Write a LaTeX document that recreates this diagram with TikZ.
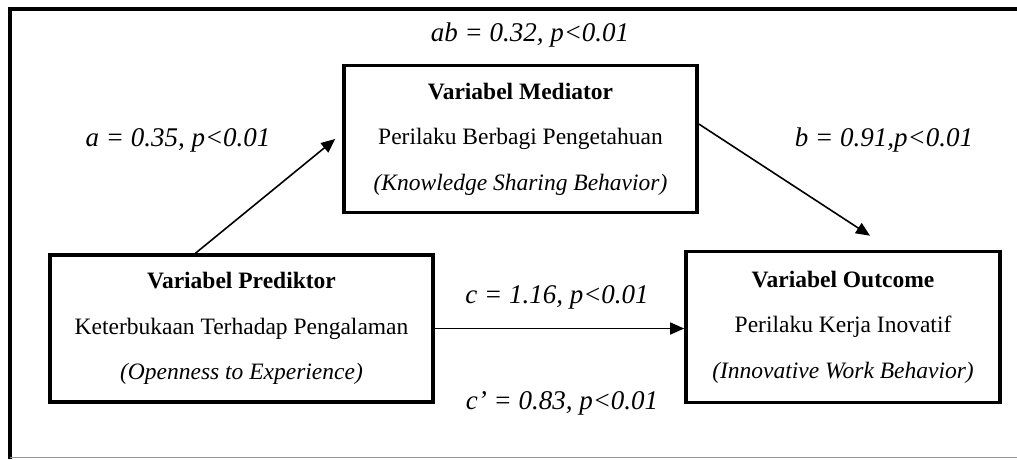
\documentclass[tikz,border=0pt]{standalone}
\usepackage{fontspec}
\setmainfont{Liberation Serif}
\usepackage{tikz}
\usetikzlibrary{
	arrows.meta,
	calc,
	positioning
}
\definecolor{FrameGray}{RGB}{150,150,150}

\begin{document}
\begin{tikzpicture}[x=1pt, y=-1pt,
		varbox/.style={draw, line width=3.6pt, inner sep=0pt, align=center, font=\fontsize{23.5}{45.5}\selectfont},
		coef/.style={font=\itshape\fontsize{27}{30}\selectfont},
		path/.style={line width=1.6pt, -{Triangle[length=14pt, width=12pt]}}]
			\useasboundingbox (0,0) rectangle (1017,459);
			\draw[line width=3.6pt] (10,459) -- (10,9) -- (1017,9);
			\draw[FrameGray, line width=1.2pt] (10,457.5) -- (1017,457.5);
			\node[varbox, minimum width=353pt, minimum height=147pt] (mediator) at (520.5,139) {\textbf{Variabel Mediator}\\Perilaku Berbagi Pengetahuan\\\textit{(Knowledge Sharing Behavior)}};
			\node[varbox, minimum width=383pt, minimum height=147pt] (predictor) at (241.5,328.5) {\textbf{Variabel Prediktor}\\Keterbukaan Terhadap Pengalaman\\\textit{(Openness to Experience)}};
			\node[varbox, minimum width=314pt, minimum height=151pt] (outcome) at (843,327) {\textbf{Variabel Outcome}\\Perilaku Kerja Inovatif\\\textit{(Innovative Work Behavior)}};
			\draw[path] ([xshift=-46pt]predictor.north) -- ([xshift=-7pt]mediator.west);
			\draw[path] ([yshift=15pt]mediator.east) -- ([xshift=27pt, yshift=14pt]outcome.north);
			\draw[path] (predictor.east) -- (predictor.east -| outcome.west);
			\node[coef] (ab) at (530,35) {ab = 0.32, p<0.01};
			\node[coef] (a) at (178,140) {a = 0.35, p<0.01};
			\node[coef] (b) at (884,140) {b = 0.91,p<0.01};
			\node[coef] (c) at (557,297) {c = 1.16, p<0.01};
			\node[coef] (cprime) at (562,403) {c’ = 0.83, p<0.01};
		\end{tikzpicture}
\end{document}
